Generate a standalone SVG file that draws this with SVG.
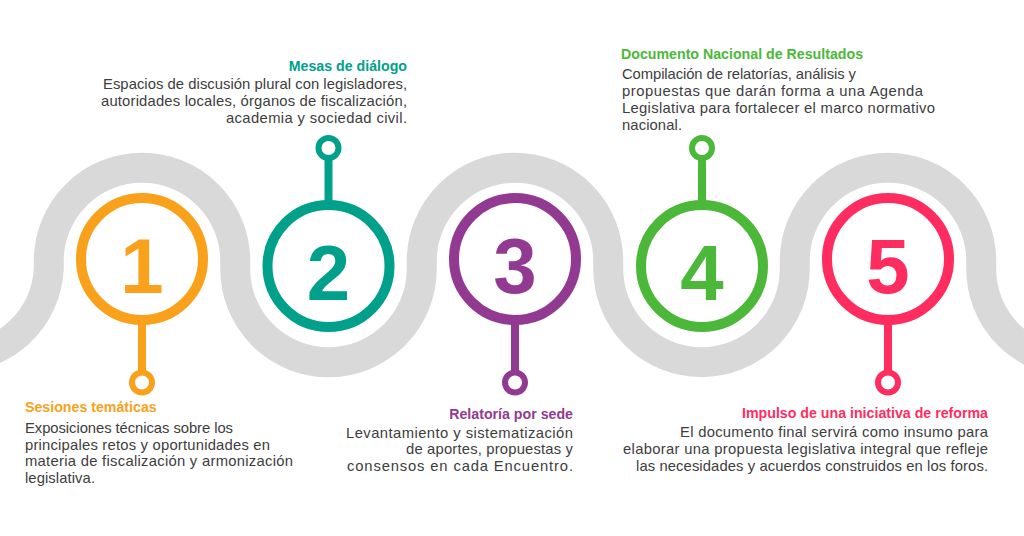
<svg xmlns="http://www.w3.org/2000/svg" width="1024" height="536" viewBox="0 0 1024 536">
  <style>
    .road { fill: none; stroke: #d9d9d9; stroke-width: 30; }
    .ring { fill: #ffffff; stroke-width: 10; }
    .stem { stroke-width: 8; }
    .dot { fill: #ffffff; stroke-width: 6; }
    .num { font-family: "Liberation Sans", Arial, sans-serif; font-weight: bold; font-size: 78px; text-anchor: middle; }
    .title { font-family: "Liberation Sans", Arial, sans-serif; font-weight: bold; font-size: 14.2px; }
    .body { font-family: "Liberation Sans", Arial, sans-serif; font-size: 14.8px; fill: #3d3d3d; }
    .end { text-anchor: end; }
    .c1 { stroke: #f9a11b; }
    .c2 { stroke: #00a08a; }
    .c3 { stroke: #923a91; }
    .c4 { stroke: #4cb83a; }
    .c5 { stroke: #ff2d5f; }
  </style>
  <rect width="1024" height="536" fill="#ffffff"/>
  <g id="road">
    <path class="road" d="M -137.5 269 A 93.25 93.25 0 0 0 48.75 269 L 48.75 261 A 93.25 93.25 0 0 1 235.25 261 L 235.25 269 A 93.25 93.25 0 0 0 421.75 269 L 421.75 261 A 93.25 93.25 0 0 1 608.25 261 L 608.25 269 A 93.25 93.25 0 0 0 794.75 269 L 794.75 261 A 93.25 93.25 0 0 1 981.25 261 L 981.25 269 A 93.25 93.25 0 0 0 1167.75 269"/>
  </g>
  <g id="connectors">
    <line class="stem c1" x1="142" y1="320" x2="142" y2="372"/>
    <line class="stem c2" x1="328.5" y1="150" x2="328.5" y2="205"/>
    <line class="stem c3" x1="515" y1="320" x2="515" y2="372"/>
    <line class="stem c4" x1="702" y1="150" x2="702" y2="205"/>
    <line class="stem c5" x1="888" y1="320" x2="888" y2="372"/>
  </g>
  <g id="node1">
    <circle class="ring c1" cx="142" cy="259" r="61"/>
    <text class="num" x="142" y="293" fill="#f9a11b">1</text>
    <circle class="dot c1" cx="142" cy="382.5" r="10"/>
    <text class="title" x="25" y="412" fill="#f9a11b">Sesiones temáticas</text>
    <text class="body" x="25" y="433" textLength="208" lengthAdjust="spacing">Exposiciones técnicas sobre los</text>
    <text class="body" x="25" y="449.7" textLength="245" lengthAdjust="spacing">principales retos y oportunidades en</text>
    <text class="body" x="25" y="466.4" textLength="268" lengthAdjust="spacing">materia de fiscalización y armonización</text>
    <text class="body" x="25" y="483" textLength="70" lengthAdjust="spacing">legislativa.</text>
  </g>
  <g id="node2">
    <circle class="ring c2" cx="328.5" cy="266" r="61"/>
    <text class="num" x="328.5" y="300" fill="#00a08a">2</text>
    <circle class="dot c2" cx="328.5" cy="148" r="10"/>
    <text class="title end" x="407" y="71" fill="#00a08a">Mesas de diálogo</text>
    <text class="body end" x="407" y="89.3" textLength="304" lengthAdjust="spacing">Espacios de discusión plural con legisladores,</text>
    <text class="body end" x="407" y="106" textLength="306" lengthAdjust="spacing">autoridades locales, órganos de fiscalización,</text>
    <text class="body end" x="407" y="122.7" textLength="181" lengthAdjust="spacing">academia y sociedad civil.</text>
  </g>
  <g id="node3">
    <circle class="ring c3" cx="515" cy="259" r="61"/>
    <text class="num" x="515" y="293" fill="#923a91">3</text>
    <circle class="dot c3" cx="515" cy="382.5" r="10"/>
    <text class="title end" x="573" y="419" fill="#923a91">Relatoría por sede</text>
    <text class="body end" x="573" y="437.7" textLength="227" lengthAdjust="spacing">Levantamiento y sistematización</text>
    <text class="body end" x="573" y="454.4" textLength="167" lengthAdjust="spacing">de aportes, propuestas y</text>
    <text class="body end" x="573" y="471" textLength="226" lengthAdjust="spacing">consensos en cada Encuentro.</text>
  </g>
  <g id="node4">
    <circle class="ring c4" cx="702" cy="266" r="61"/>
    <text class="num" x="702" y="300" fill="#4cb83a">4</text>
    <circle class="dot c4" cx="702" cy="148" r="10"/>
    <text class="title" x="621" y="58.5" fill="#4cb83a">Documento Nacional de Resultados</text>
    <text class="body" x="622" y="79.3" textLength="234" lengthAdjust="spacing">Compilación de relatorías, análisis y</text>
    <text class="body" x="622" y="96.2" textLength="301" lengthAdjust="spacing">propuestas que darán forma a una Agenda</text>
    <text class="body" x="622" y="113.1" textLength="313" lengthAdjust="spacing">Legislativa para fortalecer el marco normativo</text>
    <text class="body" x="622" y="130" textLength="60" lengthAdjust="spacing">nacional.</text>
  </g>
  <g id="node5">
    <circle class="ring c5" cx="888" cy="259" r="61"/>
    <text class="num" x="888" y="293" fill="#ff2d5f">5</text>
    <circle class="dot c5" cx="888" cy="382.5" r="10"/>
    <text class="title end" x="988" y="418" fill="#ff2d5f">Impulso de una iniciativa de reforma</text>
    <text class="body end" x="988" y="437" textLength="308" lengthAdjust="spacing">El documento final servirá como insumo para</text>
    <text class="body end" x="988" y="453.8" textLength="365" lengthAdjust="spacing">elaborar una propuesta legislativa integral que refleje</text>
    <text class="body end" x="988" y="470.6" textLength="352" lengthAdjust="spacing">las necesidades y acuerdos construidos en los foros.</text>
  </g>
</svg>
